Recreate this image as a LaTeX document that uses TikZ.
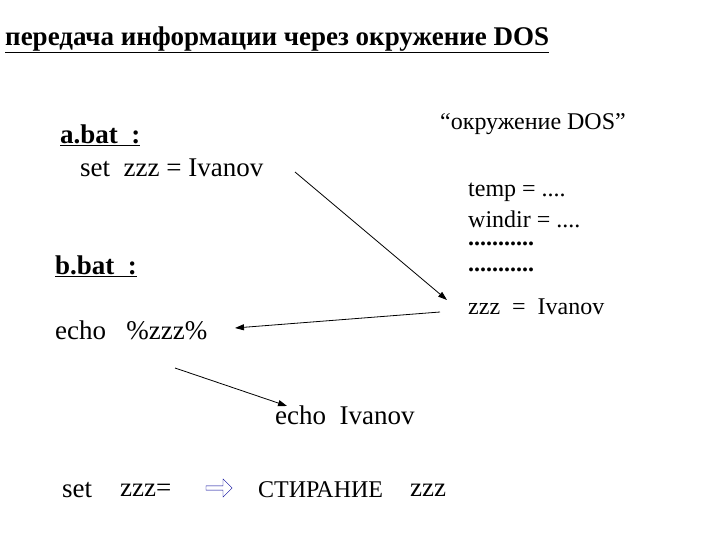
\documentclass[tikz,border=0pt]{standalone}
\usepackage{fontspec}
\setmainfont{Liberation Serif}
\usetikzlibrary{arrows.meta,shapes.arrows}
\begin{document}
\begin{tikzpicture}[x=1pt,y=-1pt,
  txt/.style={anchor=west,inner sep=0pt,font=\fontsize{27}{30}\selectfont},
  stxt/.style={anchor=west,inner sep=0pt,font=\fontsize{24}{26}\selectfont},
  bt/.style={txt,font=\fontsize{27}{30}\selectfont\bfseries},
  arr/.style={-{Triangle[length=9pt,width=6pt]},line width=0.8pt}]
\useasboundingbox (0,0) rectangle (720,540);
\node[bt] (title) at (5,40) {\underline{передача информации через окружение DOS}};
\node[bt] (abat) at (60,135) {\underline{a.bat\ \ :}};
\node[txt] (set) at (80,168) {set\ \ zzz = Ivanov};
\node[stxt] (env) at (440,124) {“окружение DOS”};
\node[stxt] (l1) at (468,192) {temp = ....};
\node[stxt] (l2) at (468,219) {windir = ....};
\node[stxt,font=\fontsize{24}{26}\selectfont\bfseries] (l3) at (468,244) {...........};
\node[stxt,font=\fontsize{24}{26}\selectfont\bfseries] (l4) at (468,270) {...........};
\node[stxt] (l5) at (468,307) {zzz\ \ =\ \ Ivanov};
\node[bt] (bbat) at (55,266) {\underline{b.bat\ \ :}};
\node[txt] (echo) at (55,330) {echo\ \ \ \%zzz\%};
\node[txt] (echoI) at (275,415) {echo\ \ Ivanov};
\node[txt] (s1) at (62,490) {set};
\node[txt] (s2) at (120,490) {zzz=};
\node[single arrow,draw=blue!60!black,fill=white,minimum height=26pt,minimum width=18pt,single arrow head extend=4pt,inner sep=1pt] (ba) at (218,488) {};
\node[stxt] (s3) at (258,490) {СТИРАНИЕ};
\node[txt] (s4) at (410,490) {zzz};
\coordinate (a1) at (295,172);
\coordinate (a2) at (447,300);
\coordinate (b1) at (440,312);
\coordinate (b2) at (235,328);
\coordinate (c1) at (175,368);
\coordinate (c2) at (287,406);
\draw[arr] (a1) -- (a2);
\draw[arr] (b1) -- (b2);
\draw[arr] (c1) -- (c2);
\end{tikzpicture}
\end{document}
